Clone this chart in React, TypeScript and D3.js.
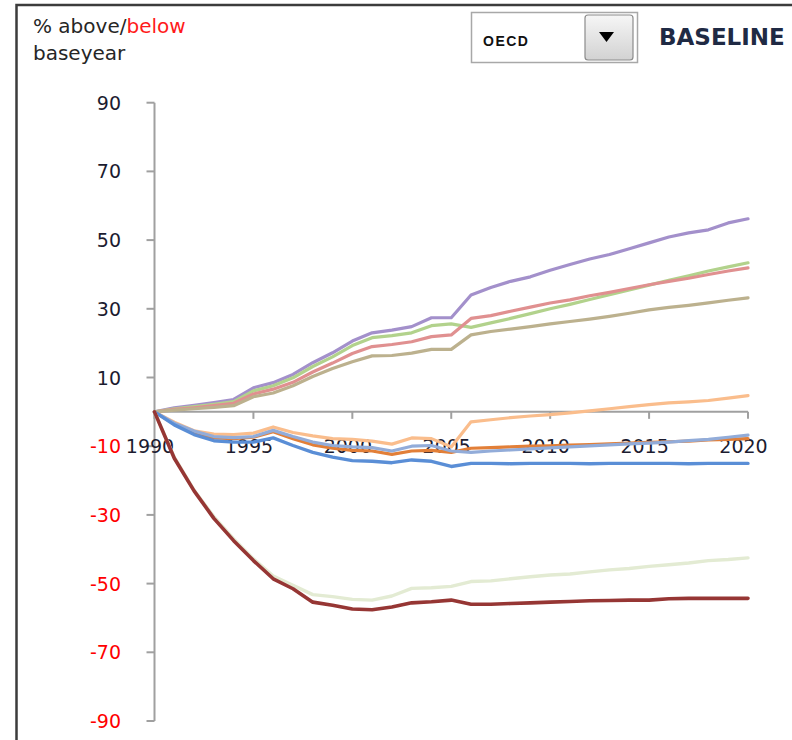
import * as d3 from "d3";

const YEARS = d3.range(1990, 2021);
const Y_TICKS = [90, 70, 50, 30, 10, -10, -30, -50, -70, -90];
const X_TICKS = [1990, 1995, 2000, 2005, 2010, 2015, 2020];

// % change vs base year, one value per year 1990..2020
const PURPLE = [0, 1.2, 1.9, 2.7, 3.6, 7.0, 8.5, 10.9, 14.3, 17.2, 20.6, 23.0, 23.8, 24.8, 27.4, 27.4, 34.0, 36.2, 38.0, 39.3, 41.2, 42.9, 44.5, 45.8, 47.5, 49.2, 50.9, 52.1, 53.0, 55.0, 56.2];
const GREEN = [0, 0.9, 1.5, 2.2, 3.0, 6.1, 7.6, 9.9, 13.2, 16.0, 19.3, 21.6, 22.2, 23.0, 25.1, 25.6, 24.6, 25.9, 27.2, 28.6, 30.0, 31.3, 32.7, 34.1, 35.5, 36.9, 38.3, 39.6, 41.0, 42.2, 43.4];
const RED = [0, 0.7, 1.2, 1.8, 2.5, 5.2, 6.6, 8.6, 11.6, 14.2, 17.0, 19.0, 19.6, 20.4, 21.9, 22.4, 27.2, 28.0, 29.3, 30.5, 31.7, 32.6, 33.8, 34.8, 35.9, 37.0, 38.0, 38.9, 40.0, 41.0, 41.9];
const TAN = [0, 0.5, 0.9, 1.3, 1.8, 4.4, 5.5, 7.6, 10.3, 12.6, 14.6, 16.3, 16.4, 17.1, 18.2, 18.2, 22.4, 23.4, 24.1, 24.8, 25.6, 26.3, 27.0, 27.8, 28.7, 29.7, 30.4, 31.0, 31.7, 32.5, 33.2];
const LIGHT_ORANGE = [0, -3.0, -5.5, -6.5, -6.6, -6.2, -4.4, -6.0, -7.0, -7.8, -8.0, -8.5, -9.4, -7.6, -7.8, -10.2, -2.9, -2.3, -1.7, -1.2, -0.8, -0.3, 0.3, 0.9, 1.5, 2.1, 2.6, 2.9, 3.3, 4.0, 4.7];
const DARK_ORANGE = [0, -3.6, -6.2, -7.6, -7.8, -7.4, -5.8, -7.8, -9.6, -10.6, -11.2, -11.4, -12.4, -11.4, -11.2, -11.8, -10.6, -10.4, -10.2, -10.0, -9.9, -9.7, -9.5, -9.3, -9.1, -8.9, -8.7, -8.5, -8.2, -8.0, -7.8];
const LIGHT_BLUE = [0, -3.3, -5.6, -7.2, -7.5, -7.2, -5.4, -7.2, -8.8, -9.8, -10.2, -10.4, -11.4, -10.0, -9.8, -11.4, -11.8, -11.4, -11.1, -10.8, -10.5, -10.2, -9.9, -9.6, -9.3, -9.1, -8.8, -8.4, -8.0, -7.4, -6.8];
const BLUE = [0, -3.8, -6.6, -8.4, -8.8, -8.8, -7.6, -9.8, -11.8, -13.2, -14.2, -14.4, -14.8, -14.0, -14.4, -15.9, -15.0, -15.0, -15.1, -15.0, -15.0, -15.0, -15.1, -15.0, -15.0, -15.0, -15.0, -15.1, -15.0, -15.0, -15.0];
const PALE_GREEN = [0, -13.2, -22.8, -30.5, -37.0, -42.8, -47.8, -50.5, -53.2, -53.8, -54.6, -54.8, -53.6, -51.4, -51.2, -50.8, -49.4, -49.2, -48.6, -48.0, -47.5, -47.2, -46.6, -46.0, -45.6, -45.0, -44.5, -44.0, -43.3, -43.0, -42.5];
const DARK_RED = [0, -13.5, -23.0, -31.0, -37.5, -43.3, -48.6, -51.5, -55.4, -56.3, -57.4, -57.6, -56.8, -55.6, -55.3, -54.8, -56.0, -56.0, -55.8, -55.6, -55.4, -55.2, -55.0, -54.9, -54.8, -54.8, -54.4, -54.3, -54.3, -54.3, -54.3];

const SERIES = [
  { values: PURPLE, color: "#a390cb", width: 3.2 },
  { values: GREEN, color: "#b2d28c", width: 3.2 },
  { values: RED, color: "#e09090", width: 3.2 },
  { values: TAN, color: "#bcb18e", width: 3.2 },
  { values: LIGHT_ORANGE, color: "#fabd8c", width: 3.2 },
  { values: DARK_ORANGE, color: "#e27f38", width: 3.2 },
  { values: LIGHT_BLUE, color: "#92acd9", width: 3.2 },
  { values: BLUE, color: "#5a8ed6", width: 3.4 },
  { values: PALE_GREEN, color: "#e3ebd3", width: 3.4 },
  { values: DARK_RED, color: "#963634", width: 3.6 },
];

const WIDTH = 792;
const HEIGHT = 740;
const AXIS_COLOR = "#a0a0a0";
const TICK_FONT = "'DejaVu Sans', Verdana, sans-serif";

export default function App() {
  const x = d3.scaleLinear().domain([1990, 2020]).range([154.5, 748]);
  const y = d3.scaleLinear().domain([-90, 90]).range([721, 102.7]);

  const line = d3
    .line<number>()
    .x((_, i) => x(YEARS[i]))
    .y((d) => y(d));

  return (
    <svg
      width={WIDTH}
      height={HEIGHT}
      style={{ position: "absolute", left: 0, top: 0, background: "#fff" }}
    >
      <defs>
        <linearGradient id="btn" x1="0" y1="0" x2="0" y2="1">
          <stop offset="0" stopColor="#f6f6f6" />
          <stop offset="1" stopColor="#d2d2d2" />
        </linearGradient>
      </defs>

      {/* outer frame, runs off the right and bottom edges */}
      <rect x={16.5} y={5} width={800} height={800} fill="none" stroke="#3c3c3c" strokeWidth={2.5} />

      {/* title */}
      <text x={33} y={33} fontFamily={TICK_FONT} fontSize={20} fill="#262626">
        % above/<tspan fill="#ff1a1a">below</tspan>
      </text>
      <text x={33} y={60} fontFamily={TICK_FONT} fontSize={20} fill="#262626">
        baseyear
      </text>

      {/* dropdown */}
      <rect x={471.5} y={12.5} width={166} height={50} fill="#fff" stroke="#a8a8a8" strokeWidth={1.5} />
      <text
        x={483}
        y={45.5}
        fontFamily="'Liberation Sans', Arial, sans-serif"
        fontWeight="bold"
        fontSize={14}
        letterSpacing={1.5}
        fill="#111"
      >
        OECD
      </text>
      <rect x={585} y={15} width={48} height={45} rx={3} fill="url(#btn)" stroke="#8c8c8c" strokeWidth={1.2} />
      <path d="M599,32 L614,32 L606.5,42 Z" fill="#000" />

      <text x={659} y={45} fontFamily={TICK_FONT} fontWeight="bold" fontSize={23} fill="#1f2a44">
        BASELINE
      </text>

      {/* y axis */}
      <line x1={x(1990)} x2={x(1990)} y1={y(90)} y2={y(-90)} stroke={AXIS_COLOR} strokeWidth={2} />
      {Y_TICKS.map((t) => (
        <g key={t}>
          <line x1={x(1990) - 8} x2={x(1990)} y1={y(t)} y2={y(t)} stroke={AXIS_COLOR} strokeWidth={2} />
          <text
            x={121}
            y={y(t)}
            textAnchor="end"
            dominantBaseline="central"
            fontFamily={TICK_FONT}
            fontSize={19}
            fill={t < 0 ? "#ff0000" : "#1c1c30"}
          >
            {String(t)}
          </text>
        </g>
      ))}

      {/* x axis */}
      <line x1={x(1990)} x2={x(2020)} y1={y(0)} y2={y(0)} stroke={AXIS_COLOR} strokeWidth={2} />
      {X_TICKS.map((t) => (
        <g key={t}>
          <line x1={x(t)} x2={x(t)} y1={y(0)} y2={y(0) + 7} stroke={AXIS_COLOR} strokeWidth={2} />
          <text
            x={x(t) - 4.5}
            y={453}
            textAnchor="middle"
            fontFamily={TICK_FONT}
            fontSize={19}
            fill="#1c1c30"
          >
            {t}
          </text>
        </g>
      ))}

      {/* series */}
      {SERIES.map((s, i) => (
        <path
          key={i}
          d={line(s.values) ?? ""}
          fill="none"
          stroke={s.color}
          strokeWidth={s.width}
          strokeLinejoin="round"
          strokeLinecap="round"
        />
      ))}
    </svg>
  );
}
